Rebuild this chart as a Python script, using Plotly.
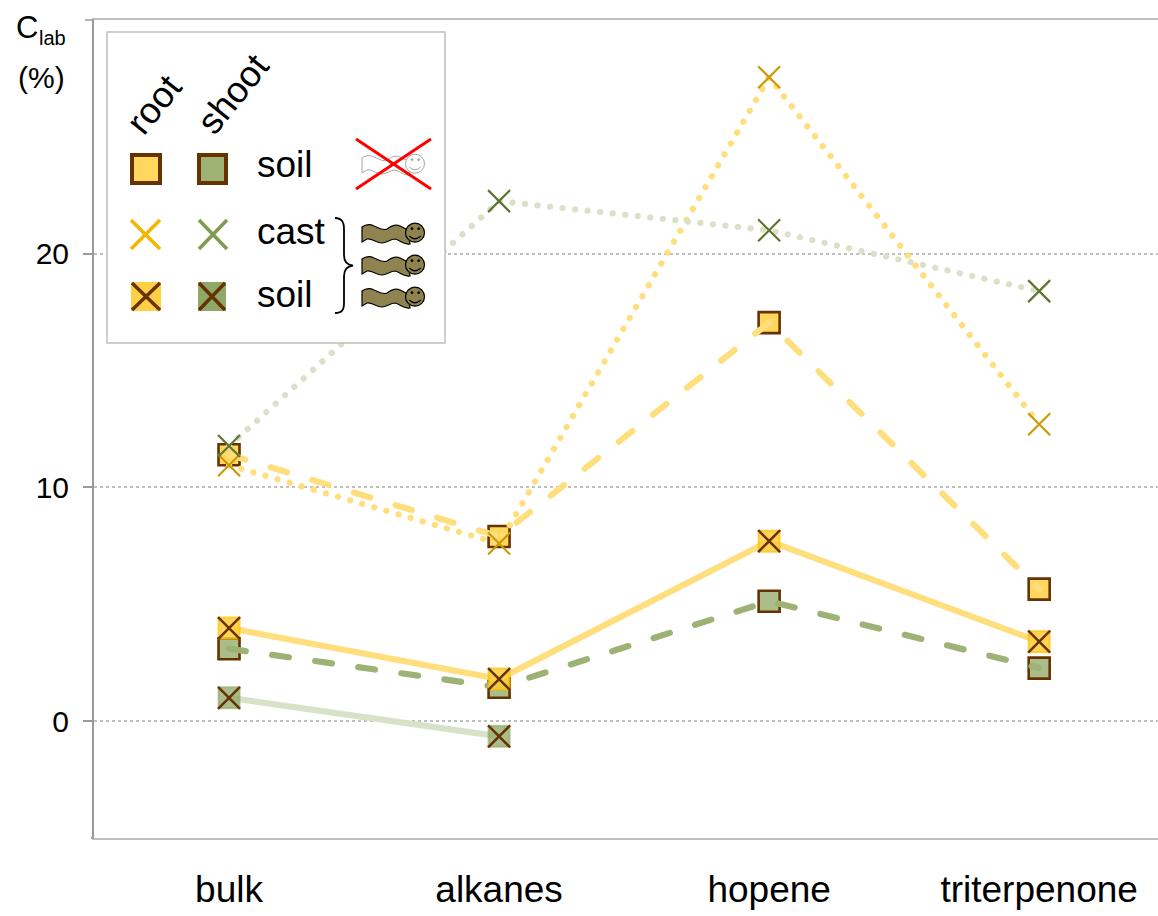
import plotly.graph_objects as go

categories = ["bulk", "alkanes", "hopene", "triterpenone"]
root_soil = [11.4, 7.9, 17.05, 5.65]
root_cast = [10.95, 7.6, 27.55, 12.7]
root_worm_soil = [3.98, 1.8, 7.7, 3.4]
shoot_soil = [3.1, 1.45, 5.13, 2.27]
shoot_cast = [11.77, 22.25, 21.0, 18.4]
shoot_worm_soil = [1.0, -0.65, None, None]
y_ticks = [0, 10, 20]
y_labels = ["0", "10", "20"]

W, H = 1158, 916
L, R, T, B = 94, 1158, 20, 838
FONT = "Liberation Sans, Arial, sans-serif"
YEL_LINE = "#FFDE7E"
GRN_LINE = "#9DB274"
GRN_FAINT = "#D9E2C9"
DARK = "#663300"
YEL_FILL = "rgba(255,205,60,0.85)"
GRN_FILL = "rgba(140,165,100,0.75)"
DOT = "0.1px,12.5px"
DASH = "17px,26.5px"
LW = 6.2


def px(x):
    return (x - L) / (R - L)


def py(y):
    return (B - y) / (B - T)


def path(cmds):
    """cmds: list of (letter, x, y, x, y ...) in page pixels -> paper path"""
    out = []
    for c in cmds:
        if c[0] == "Z":
            out.append("Z")
            continue
        vals = c[1:]
        pts = [f"{px(vals[i]):.5f},{py(vals[i + 1]):.5f}" for i in range(0, len(vals), 2)]
        out.append(c[0] + " ".join(pts))
    return " ".join(out)


fig = go.Figure()


def line_trace(vals, color, dash, width=LW, marker=None):
    fig.add_trace(go.Scatter(
        x=categories, y=vals, mode="lines+markers" if marker else "lines",
        line=dict(color=color, width=width, dash=dash), marker=marker,
        showlegend=False, cliponaxis=False, hoverinfo="skip"))


def mark(vals, symbol, size, fill, lc, lw):
    fig.add_trace(go.Scatter(
        x=categories, y=vals, mode="markers",
        marker=dict(symbol=symbol, size=size, color=fill, line=dict(color=lc, width=lw)),
        showlegend=False, cliponaxis=False, hoverinfo="skip"))


X_SIZE = 22
SQ = 21

# shoot, earthworm soil
line_trace(shoot_worm_soil, GRN_FAINT, "solid")
mark(shoot_worm_soil, "square", SQ, GRN_FILL, "rgba(140,165,100,0.6)", 2)
mark(shoot_worm_soil, "x-thin", X_SIZE, DARK, DARK, 2.5)
# shoot, soil without worms (line over the squares)
mark(shoot_soil, "square", SQ, "#ABBD8A", DARK, 2.6)
line_trace(shoot_soil, GRN_LINE, DASH)
# root, soil without worms
mark(root_soil, "square", SQ, "#FFD75F", DARK, 2.6)
line_trace(root_soil, YEL_LINE, DASH)
# root, earthworm soil
line_trace(root_worm_soil, YEL_LINE, "solid")
mark(root_worm_soil, "square", SQ, YEL_FILL, "rgba(255,192,0,0.7)", 2)
mark(root_worm_soil, "x-thin", X_SIZE, DARK, DARK, 2.5)
# root, cast
line_trace(root_cast, YEL_LINE, DOT)
mark(root_cast, "x-thin", X_SIZE, "#CC9A06", "#CC9A06", 2.2)
# shoot, cast
line_trace(shoot_cast, GRN_FAINT, DOT)
mark(shoot_cast, "x-thin", X_SIZE, "#5F7530", "#5F7530", 2.2)

shapes = []


def rect(x0, y0, x1, y1, fill, lc=None, lw=0):
    shapes.append(dict(type="rect", xref="paper", yref="paper", layer="above",
                       x0=px(x0), x1=px(x1), y0=py(y0), y1=py(y1), fillcolor=fill,
                       line=dict(color=lc or "rgba(0,0,0,0)", width=lw)))


def seg(x0, y0, x1, y1, color, lw):
    shapes.append(dict(type="line", xref="paper", yref="paper", layer="above",
                       x0=px(x0), x1=px(x1), y0=py(y0), y1=py(y1),
                       line=dict(color=color, width=lw)))


def cross(x0, y0, x1, y1, color, lw):
    seg(x0, y0, x1, y1, color, lw)
    seg(x0, y1, x1, y0, color, lw)


def svg(d, fill, lc, lw):
    shapes.append(dict(type="path", xref="paper", yref="paper", layer="above", path=d,
                       fillcolor=fill, line=dict(color=lc, width=lw)))


def circle(cx, cy, r, fill, lc, lw):
    shapes.append(dict(type="circle", xref="paper", yref="paper", layer="above",
                       x0=px(cx - r), x1=px(cx + r), y0=py(cy - r), y1=py(cy + r),
                       fillcolor=fill, line=dict(color=lc, width=lw)))


def worm(dy, fill, lc, lw):
    svg(path([("M", 362, 227 + dy), ("C", 366, 224 + dy, 370, 224 + dy, 374, 226 + dy),
              ("C", 379, 228 + dy, 383, 231 + dy, 387, 229 + dy),
              ("C", 391, 226 + dy, 396, 224 + dy, 400, 226 + dy),
              ("L", 408, 230 + dy), ("L", 410, 244 + dy),
              ("C", 404, 245 + dy, 400, 240 + dy, 395, 239 + dy),
              ("C", 390, 239 + dy, 387, 243 + dy, 382, 243 + dy),
              ("C", 376, 243 + dy, 372, 238 + dy, 367, 239 + dy),
              ("L", 362, 242 + dy), ("Z",)]), fill, lc, lw)
    circle(415, 232.7 + dy, 9.5, fill if fill == "#8F8450" else "white", lc, lw)
    circle(412, 228.7 + dy, 1.1, lc, lc, 0.6)
    circle(418.7, 228.7 + dy, 1.1, lc, lc, 0.6)
    svg(path([("M", 409.3, 236 + dy), ("Q", 415, 241.5 + dy, 420.7, 236 + dy)]),
        "rgba(0,0,0,0)", lc, lw)


# legend box
rect(107, 32, 445, 343, "white", "#BFBFBF", 1.5)
# legend row 1
rect(132, 155, 160, 183, "#FFD75F", DARK, 4)
rect(199, 155, 226, 183, "#9DB274", DARK, 4)
# legend row 2
cross(131, 220, 160, 249, "#F2B800", 3.5)
cross(199, 220, 227, 249, "#7F9B50", 3.5)
# legend row 3
rect(131, 282, 161, 311, "#FFCF45")
cross(132, 283, 160, 310, DARK, 3.5)
rect(198, 282, 226, 311, "#8FA868")
cross(199, 283, 225, 310, DARK, 3.5)
# pale worm and red cross
worm(-69, "white", "#A6A6A6", 1)
cross(356, 139, 431, 189, "#FF0000", 3)
# three brown worms
for dy in (0, 32, 64):
    worm(dy, "#8F8450", "#000000", 1.2)
# brace
svg(path([("M", 335, 218), ("C", 342, 218, 344, 222, 344, 229), ("L", 344, 255),
          ("C", 344, 261, 347, 265, 353, 265.7), ("C", 347, 266.4, 344, 270, 344, 276),
          ("L", 344, 303), ("C", 344, 310, 342, 313, 335, 313)]),
    "rgba(0,0,0,0)", "#000000", 1.8)
# tick at the very top of the y axis and short foot at its bottom
seg(85, 20, 94, 20, "#999999", 1.5)
seg(91, 838, 94, 838, "#999999", 1.5)

annots = []


def text(s, x, y, size, angle=0, anchor="center"):
    annots.append(dict(text=s, xref="paper", yref="paper", x=px(x), y=py(y), showarrow=False,
                       xanchor=anchor, yanchor="middle", textangle=angle,
                       font=dict(family=FONT, size=size, color="black")))


text("root", 154, 105, 36.5, -51)
text("shoot", 232, 94, 36.5, -51)
text("soil", 285, 165, 37)
text("cast", 291, 232, 37)
text("soil", 285, 294, 37)
text("C", 27, 27, 31)
text("lab", 52, 38, 20)
text("(%)", 41, 77, 30)

fig.update_layout(
    width=W, height=H, margin=dict(l=L, r=W - R, t=T, b=H - B),
    paper_bgcolor="white", plot_bgcolor="white", shapes=shapes, annotations=annots,
    font=dict(family=FONT, color="black"),
    xaxis=dict(type="category", categoryorder="array", categoryarray=categories,
               range=[-0.5, 3.44], showgrid=False, zeroline=False, showline=True, mirror=True,
               linecolor="#BFBFBF", linewidth=1.5, ticks="", tickfont=dict(size=37, family=FONT),
               ticklabelstandoff=18),
    yaxis=dict(range=[-5, 30], tickvals=y_ticks, ticktext=y_labels, zeroline=False,
               showline=True, linecolor="#999999", linewidth=2, ticks="outside", ticklen=9,
               tickwidth=1.5, tickcolor="#999999", showgrid=True, gridcolor="#BFBFBF",
               griddash="dot", gridwidth=1.5, tickfont=dict(size=30, family=FONT),
               ticklabelstandoff=8),
)

post = """
document.body.style.margin = '0';
var gd = document.getElementById('{plot_id}');
function caps() {
  gd.querySelectorAll('.js-line').forEach(function (p) { p.style.strokeLinecap = 'round'; });
}
caps();
gd.on('plotly_afterplot', caps);
setTimeout(caps, 50);
"""
fig.write_html("out.html", post_script=post, config=dict(displayModeBar=False))
